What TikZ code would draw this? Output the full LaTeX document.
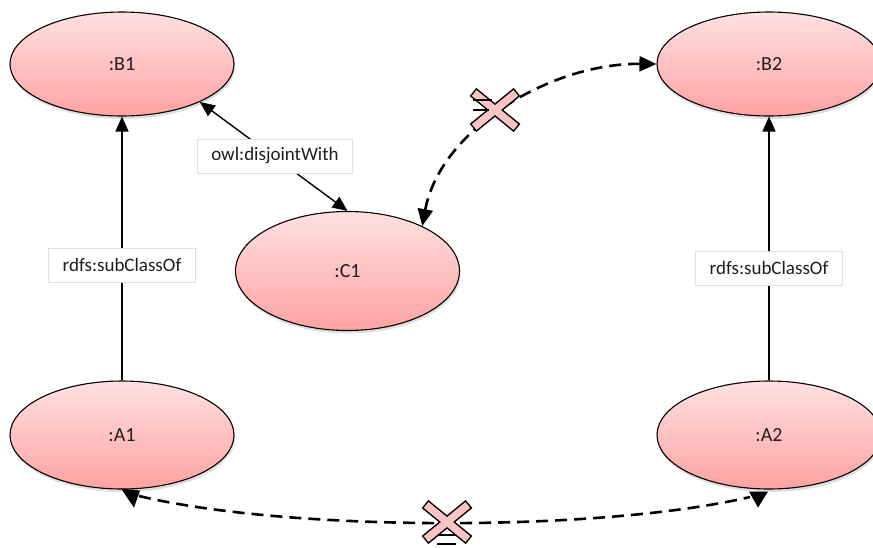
\documentclass[tikz,border=0pt]{standalone}
\usepackage{fontspec}
\setmainfont{Carlito}
\usetikzlibrary{arrows.meta,shapes.geometric,shadows,calc}

\definecolor{clstop}{RGB}{255,224,224}
\definecolor{clsbot}{RGB}{255,162,162}
\definecolor{crosspink}{RGB}{250,196,196}
\definecolor{txt}{RGB}{30,30,30}

\begin{document}
\begin{tikzpicture}[x=1pt,y=-1pt,
  cls/.style={ellipse, draw=black, line width=1.1pt, minimum width=224pt,
    top color=clstop, bottom color=clsbot,
    drop shadow={shadow xshift=1pt, shadow yshift=-3pt, opacity=0.25},
    font=\fontsize{20}{24}\selectfont, text=txt},
  lbl/.style={draw=black!12, fill=white, line width=0.6pt,
    font=\fontsize{19}{22}\selectfont, text=txt,
    minimum height=34pt, inner xsep=14pt},
  rel/.style={line width=1.4pt, -{Triangle[length=15pt,width=13pt]}},
  relboth/.style={line width=1.4pt, {Triangle[length=15pt,width=13pt]}-{Triangle[length=15pt,width=13pt]}},
  dashlink/.style={line width=2.6pt, dash pattern=on 12pt off 7pt},
  dashboth/.style={dashlink, {Triangle[length=17pt,width=15pt]}-{Triangle[length=17pt,width=15pt]}},
  tipfill/.style={fill=black},
  crossout/.style={line width=10.5pt, draw=black},
  crossin/.style={line width=7.5pt, draw=crosspink, shorten <=1.5pt, shorten >=1.5pt},
  tick/.style={line width=2.4pt, draw=black}
]
\useasboundingbox (0,0) rectangle (873,547);

% classes
\node[cls, minimum height=104pt] (B1) at (122,64) {:B1};
\node[cls, minimum height=104pt] (B2) at (769,64) {:B2};
\node[cls, minimum height=119pt] (C1) at (347.5,271) {:C1};
\node[cls, minimum height=108pt] (A1) at (122,435) {:A1};
\node[cls, minimum height=108pt] (A2) at (769,435) {:A2};

% subclass links
\draw[rel] (A1.north) -- (B1.south);
\draw[rel] (A2.north) -- (B2.south);
\node[lbl] (subL) at (122,265) {rdfs:subClassOf};
\node[lbl] (subR) at (769,268) {rdfs:subClassOf};

% disjointness
\draw[relboth] (B1.-26) -- (C1.north);
\node[lbl] (disj) at (275,156) {owl:disjointWith};

% rejected link C1 -- B2
\draw[dashboth] (C1.31) .. controls (440,130) and (550,63) .. (B2.west);

% rejected link A1 -- A2
\coordinate (a1end) at (139,496);
\coordinate (a2end) at (750,497);
\draw[dashlink] (a1end) .. controls (290,532) and (600,532) .. (a2end);
\fill[tipfill] ($(A1.south)+(-1,-1)$) -- ++(19,2) -- ++(-6,17) -- cycle;
\fill[tipfill] ($(A2.south)+(-20,2)$) -- ++(19,0) -- ++(-10,16) -- cycle;

% crosses on the rejected links
\draw[crossout] (473,92) -- (517,128);
\draw[crossout] (517,92) -- (473,128);
\draw[crossin] (473,92) -- (517,128);
\draw[crossin] (517,92) -- (473,128);
\draw[tick] (473,100) -- (492,100);
\draw[tick] (473,110) -- (489,110);

\draw[tick] (437,535) -- (457,535);
\draw[crossout] (425,504) -- (469,540);
\draw[crossout] (469,504) -- (425,540);
\draw[crossin] (425,504) -- (469,540);
\draw[crossin] (469,504) -- (425,540);
\draw[tick] (437,544) -- (456,544);
\end{tikzpicture}
\end{document}
